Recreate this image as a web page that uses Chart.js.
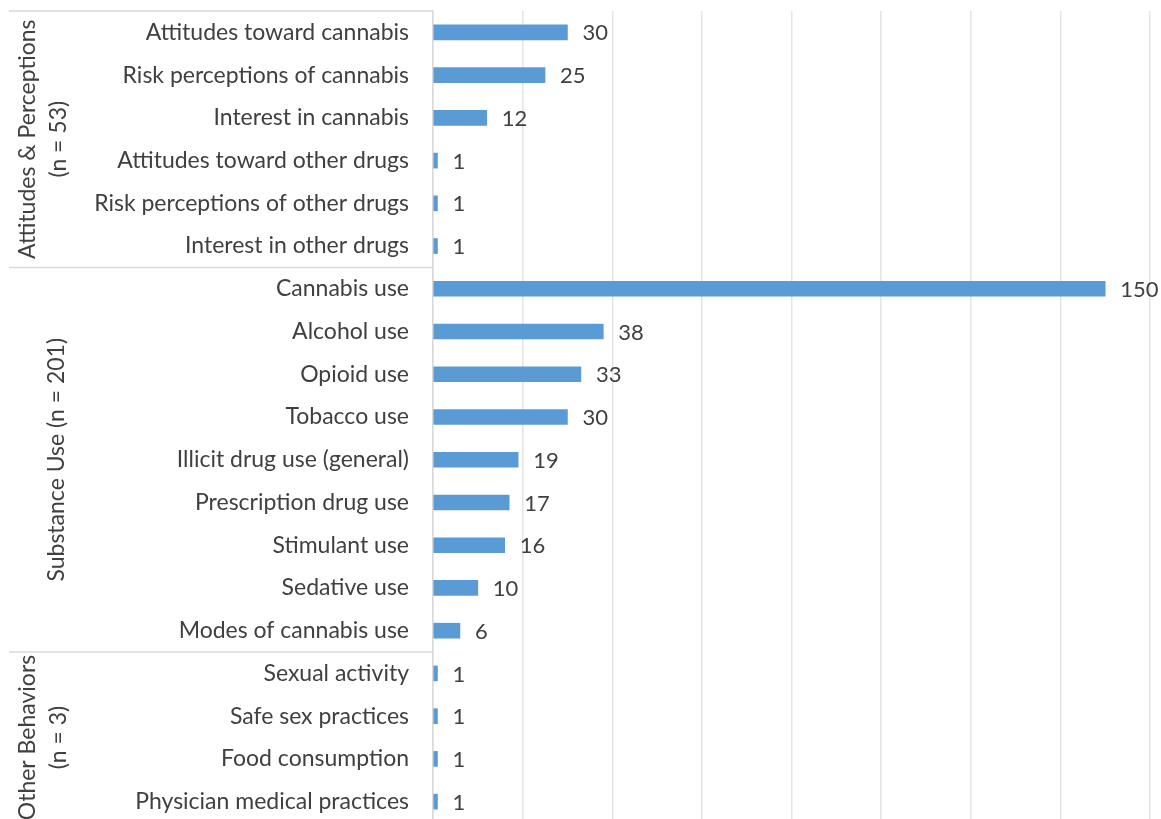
<!DOCTYPE html>
<html lang="en">
  <head>
    <meta charset="UTF-8" />
    <title>Studies by outcome category</title>
    <style>
      html, body { margin: 0; padding: 0; background: #fff; overflow: hidden; }
    </style>
  </head>
  <body>
    <canvas id="myChart" width="1161" height="830"></canvas>

    <script src="https://cdn.jsdelivr.net/npm/chart.js@4.4.0/dist/chart.umd.min.js"></script>
    <script>
      const categories = [
        "Attitudes toward cannabis",
        "Risk perceptions of cannabis",
        "Interest in cannabis",
        "Attitudes toward other drugs",
        "Risk perceptions of other drugs",
        "Interest in other drugs",
        "Cannabis use",
        "Alcohol use",
        "Opioid use",
        "Tobacco use",
        "Illicit drug use (general)",
        "Prescription drug use",
        "Stimulant use",
        "Sedative use",
        "Modes of cannabis use",
        "Sexual activity",
        "Safe sex practices",
        "Food consumption",
        "Physician medical practices",
      ];
      const counts = [30, 25, 12, 1, 1, 1, 150, 38, 33, 30, 19, 17, 16, 10, 6, 1, 1, 1, 1];

      // group headings: text lines, first and last category index
      const groupLines = [
        ["Attitudes & Perceptions", "(n = 53)"],
        ["Substance Use (n = 201)"],
        ["Other Behaviors", "(n = 3)"],
      ];
      const groupStart = [0, 6, 15];
      const groupEnd = [5, 14, 18];

      const textColor = "#404040";
      const lineColor = "#d9d9d9";
      const fontFamily = "Lato, 'Open Sans', sans-serif";

      // value at the end of every bar
      const valueLabels = {
        id: "valueLabels",
        afterDatasetsDraw(chart) {
          const ctx = chart.ctx;
          const meta = chart.getDatasetMeta(0);
          ctx.save();
          ctx.font = "22px " + fontFamily;
          ctx.fillStyle = textColor;
          ctx.textAlign = "left";
          ctx.textBaseline = "middle";
          meta.data.forEach((bar, i) => {
            ctx.fillText(String(counts[i]), bar.x + 15, bar.y + 1);
          });
          ctx.restore();
        },
      };

      // separators and rotated group headings left of the category labels
      const groupHeadings = {
        id: "groupHeadings",
        afterDraw(chart) {
          const ctx = chart.ctx;
          const y = chart.scales.y;
          const area = chart.chartArea;
          const step = y.getPixelForValue(1) - y.getPixelForValue(0);
          ctx.save();
          ctx.strokeStyle = lineColor;
          ctx.lineWidth = 1.5;
          groupStart.forEach((s, g) => {
            const top = y.getPixelForValue(s) - step / 2;
            const bottom = y.getPixelForValue(groupEnd[g]) + step / 2;
            ctx.beginPath();
            ctx.moveTo(9, top);
            ctx.lineTo(area.left, top);
            ctx.stroke();

            const lines = groupLines[g];
            const mid = (top + bottom) / 2;
            ctx.save();
            ctx.translate(0, mid);
            ctx.rotate(-Math.PI / 2);
            ctx.font = "23px " + fontFamily;
            ctx.fillStyle = textColor;
            ctx.textAlign = "center";
            ctx.textBaseline = "middle";
            if (lines.length === 1) {
              ctx.fillText(lines[0], 0, 57);
            } else {
              ctx.fillText(lines[0], 0, 28);
              ctx.fillText(lines[1], 0, 59);
            }
            ctx.restore();
          });
          ctx.restore();
        },
      };

      const ctx = document.getElementById("myChart").getContext("2d");
      const myChart = new Chart(ctx, {
        type: "bar",
        data: {
          labels: categories,
          datasets: [
            {
              data: counts,
              backgroundColor: "#5b9bd5",
              borderWidth: 0,
              barThickness: 15,
            },
          ],
        },
        plugins: [valueLabels, groupHeadings],
        options: {
          indexAxis: "y",
          responsive: false,
          animation: false,
          devicePixelRatio: 1,
          layout: { padding: { top: 11, right: 11, bottom: 7, left: 0 } },
          plugins: {
            legend: { display: false },
            tooltip: { enabled: false },
          },
          scales: {
            x: {
              min: 0,
              max: 160,
              afterFit(scale) {
                scale.height = 0;
              },
              ticks: { display: false, stepSize: 20 },
              grid: { color: "#e4e4e4", lineWidth: 1.5, drawTicks: false },
              border: { display: false },
            },
            y: {
              afterFit(scale) {
                scale.width = 433;
                scale.paddingTop = 0;
                scale.paddingBottom = 0;
              },
              ticks: {
                color: textColor,
                font: { family: fontFamily, size: 23 },
                padding: 24,
                autoSkip: false,
              },
              grid: { display: false, drawTicks: false },
              border: { color: lineColor, width: 1.5 },
            },
          },
        },
      });
    </script>
  </body>
</html>
